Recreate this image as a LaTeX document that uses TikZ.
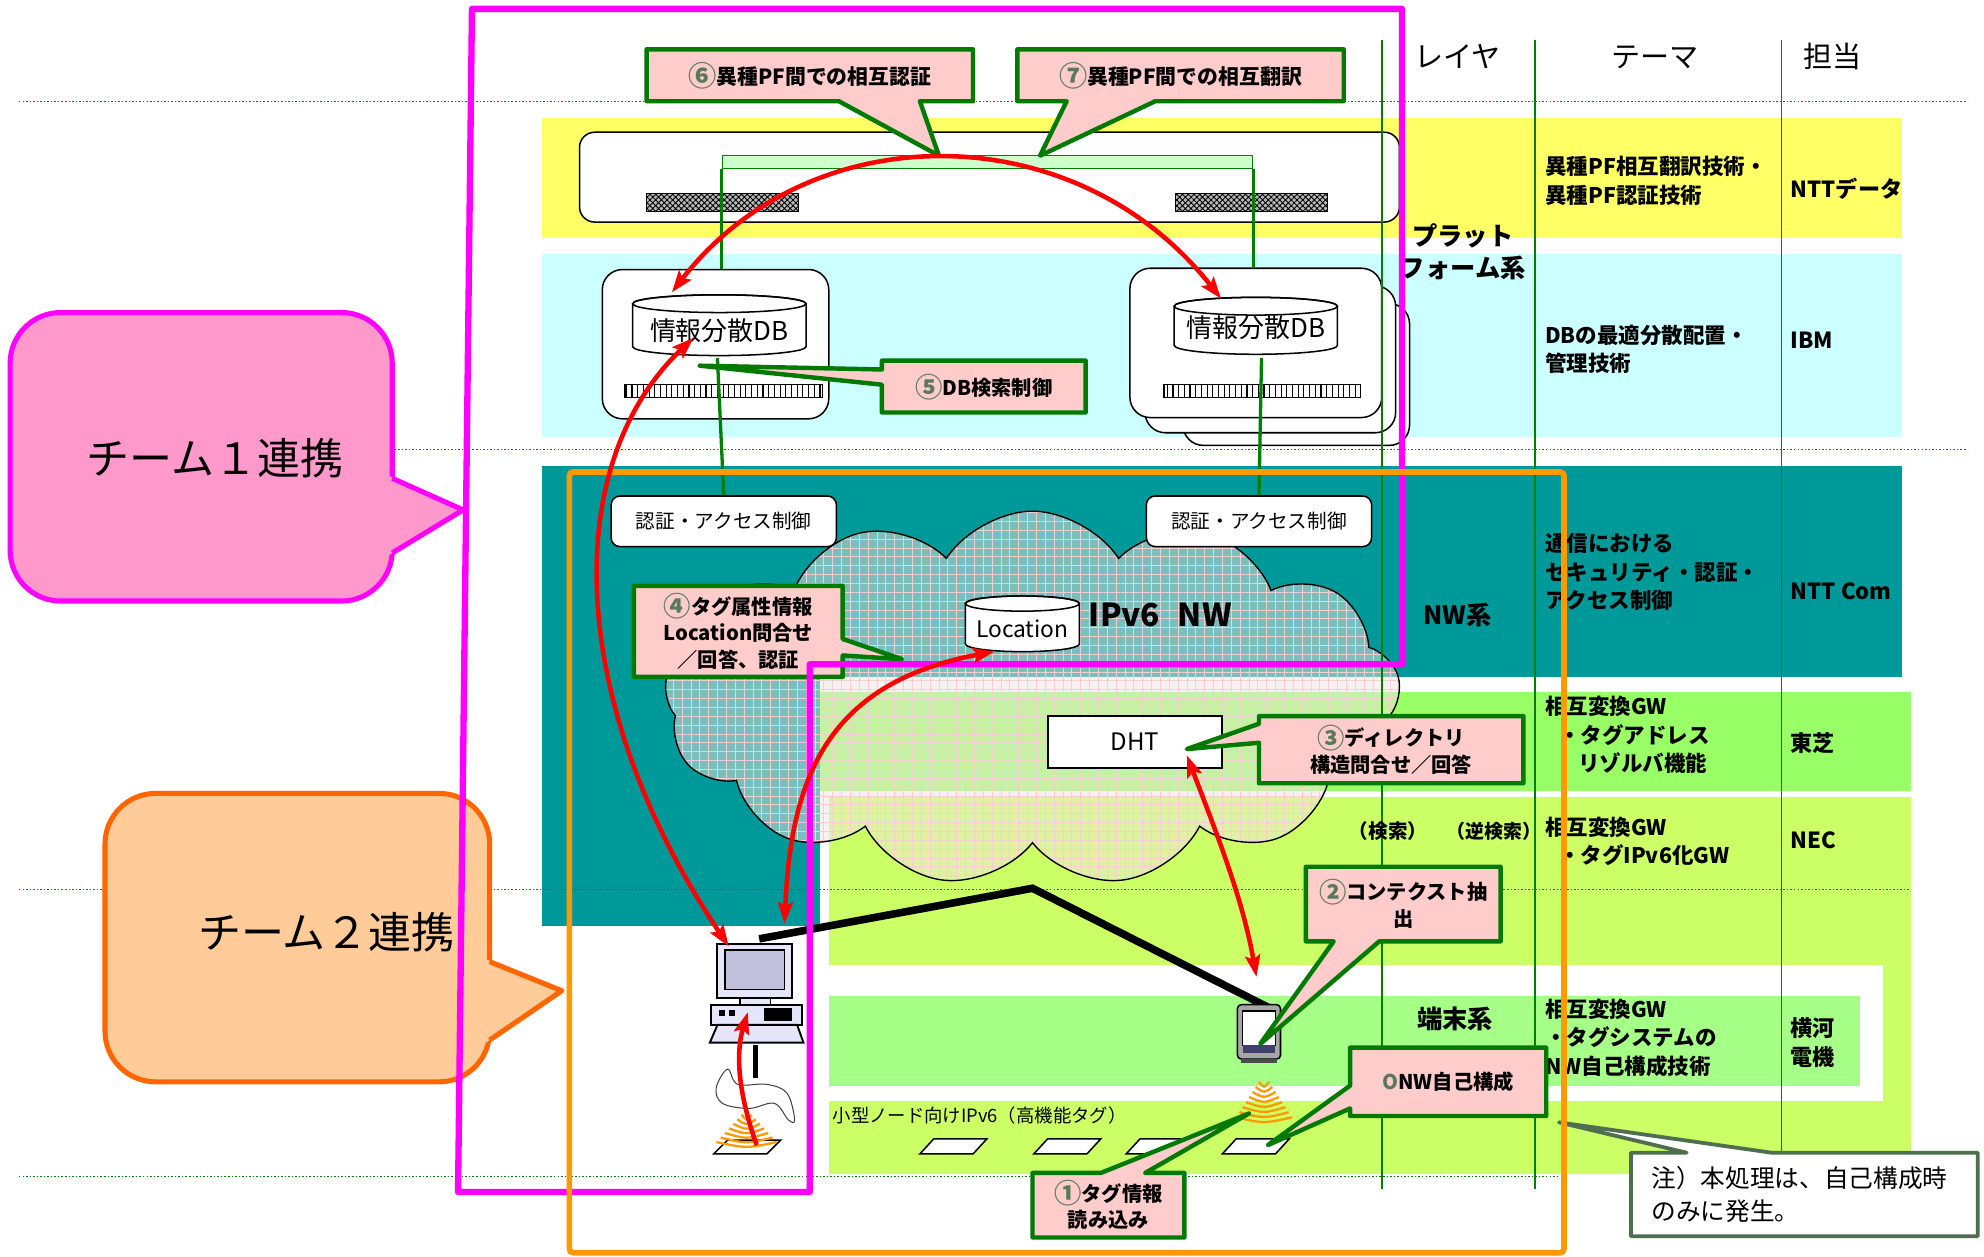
\documentclass[tikz,border=0pt]{standalone}
\usepackage{fontspec}
\setmainfont{Noto Sans CJK JP}
\usetikzlibrary{arrows.meta,shapes.symbols,patterns.meta}

\definecolor{bandyellow}{HTML}{FFFF66}
\definecolor{bandcyan}{HTML}{CCFFFF}
\definecolor{bandteal}{HTML}{009999}
\definecolor{bandgreen}{HTML}{99FF66}
\definecolor{bandlime}{HTML}{CCFF66}
\definecolor{bandmint}{HTML}{A6FF86}
\definecolor{rulegreen}{HTML}{008000}
\definecolor{calloutgreen}{HTML}{007A00}
\definecolor{calloutpink}{HTML}{FFCCCC}
\definecolor{numgreen}{HTML}{5A785A}
\definecolor{teamonefill}{HTML}{FF99CC}
\definecolor{teamoneline}{HTML}{FF00FF}
\definecolor{teamtwofill}{HTML}{FFCC99}
\definecolor{teamtwoline}{HTML}{FF6600}
\definecolor{frameorange}{HTML}{FF9900}
\definecolor{notegreen}{HTML}{4F6E4F}
\definecolor{pflink}{HTML}{CCFFCC}
\definecolor{pclav}{HTML}{E6E6FA}
\definecolor{pcscreen}{HTML}{C0C0DC}
\definecolor{phonestrip}{HTML}{40406A}
\definecolor{cloudwash}{HTML}{F4E4E4}
\definecolor{gridpink}{HTML}{F6CFCF}
\definecolor{waveorange}{HTML}{FF9900}

\newcommand{\fsz}[2]{\fontsize{#1}{#2}\selectfont}
% circled step numbers, enlarged to full character size
\newcommand{\cnum}[1]{\textcolor{numgreen}{\raisebox{-0.12em}{\scalebox{1.35}{#1}}}}

\tikzset{
  pics/drum/.style n args={3}{code={%
    \path[draw=black, line width=1.2pt, fill=white]
      (-#1,0) -- (-#1,#2)
      arc[start angle=180, end angle=360, x radius=#1pt, y radius=#3pt]
      -- (#1,0)
      arc[start angle=0, end angle=180, x radius=#1pt, y radius=#3pt] -- cycle;
    \draw[line width=1.2pt] (0,0) ellipse[x radius=#1pt, y radius=#3pt];
  }},
  cloudshape/.style={cloud, cloud puffs=13, cloud puff arc=115, aspect=1.96,
    minimum width=582pt, minimum height=296pt, inner sep=0pt},
  dotrule/.style={draw=rulegreen, line width=0.9pt, dash pattern=on 1.2pt off 1.6pt},
  colrule/.style={draw=rulegreen, line width=1.3pt},
  pfwire/.style={draw=rulegreen, line width=2.6pt},
  callout/.style={draw=calloutgreen, line width=3.5pt, fill=calloutpink, line join=round},
  ctext/.style={inner sep=0pt, align=center, font=\fsz{16}{21}\bfseries},
  theme/.style={inner sep=0pt, anchor=west, align=left, font=\fsz{17}{22.5}\bfseries},
  owner/.style={inner sep=0pt, anchor=west, align=left, font=\fsz{17.5}{23}\bfseries},
  layer/.style={inner sep=0pt, align=center, font=\fsz{20}{25}\bfseries},
  head/.style={inner sep=0pt, font=\fsz{23}{28}},
  whitebox/.style={draw=black, line width=1.2pt, fill=white, inner sep=0pt},
  hatchbar/.style={draw=black, line width=1pt, inner sep=0pt, minimum width=120pt,
    minimum height=14pt, fill=gray!55,
    postaction={pattern={Hatch[angle=45,distance=3.2pt,line width=0.7pt]}, pattern color=black}},
  stripbar/.style={draw=black, line width=1pt, inner sep=0pt, minimum height=10pt, fill=white,
    postaction={pattern={Lines[angle=90,distance=4.5pt,line width=0.9pt]}, pattern color=black}},
  redlink/.style={draw=red, line width=3.6pt,
    {Stealth[length=17pt,width=12pt,inset=3pt]}-{Stealth[length=17pt,width=12pt,inset=3pt]}},
  redone/.style={draw=red, line width=3.6pt, -{Stealth[length=17pt,width=12pt,inset=3pt]}},
  wire/.style={draw=black, line width=6pt, line join=miter},
  tagcard/.style={draw=black, line width=1.2pt, fill=white},
  wave/.style={draw=waveorange, line width=1.8pt},
}

\begin{document}
\begin{tikzpicture}[x=1pt, y=-1pt]
\useasboundingbox (0,0) rectangle (1568,993);
\fill[white] (0,0) rectangle (1568,993);

% ---------- layer bands ----------
\fill[bandyellow] (428,93) rectangle (1503,188);
\fill[bandcyan] (428,201) rectangle (1503,345);
\fill[bandteal] (428,368) rectangle (1503,535);
\fill[bandteal] (428,534) rectangle (648,732);
\fill[bandgreen] (648,547) rectangle (1510,625);
\fill[bandlime] (655,630) rectangle (1510,928);
\fill[white] (655,763) rectangle (1488,870);
\fill[bandmint] (655,787) rectangle (1470,858);

% ---------- dotted layer separators ----------
\draw[dotrule] (15,80) -- (1555,80);
\draw[dotrule] (15,355) -- (1555,355);
\draw[dotrule] (15,703) -- (1510,703);
\draw[dotrule] (15,930) -- (1232,930);

% ---------- platform ----------
\node[whitebox, rounded corners=12pt, minimum width=648pt, minimum height=71pt] (pfbox) at (782,140) {};
\node[hatchbar] (pfleft) at (571,160) {};
\node[hatchbar] (pfright) at (989,160) {};
\node[draw=rulegreen, line width=1.2pt, fill=pflink, minimum width=419pt, minimum height=10pt, inner sep=0pt] (pfbar) at (780.5,128) {};

% ---------- distributed DB servers ----------
\node[whitebox, rounded corners=16pt, minimum width=179pt, minimum height=112pt] (rdbback) at (1024.5,296) {};
\node[whitebox, rounded corners=16pt, minimum width=198pt, minimum height=116pt] (rdbmid) at (1004,284) {};
\node[whitebox, rounded corners=16pt, minimum width=199pt, minimum height=118pt] (rdbfront) at (992.5,271) {};
\node[whitebox, rounded corners=16pt, minimum width=179pt, minimum height=118pt] (ldbbox) at (565.5,272) {};

\pic at (568.5,240) {drum={68.5}{34}{7}};
\node[inner sep=0pt, font=\fsz{20.5}{24}] (ldbtext) at (568.5,261) {情報分散DB};
\pic at (992.5,242) {drum={64.5}{31}{7}};
\node[inner sep=0pt, font=\fsz{20.5}{24}] (rdbtext) at (992.5,259) {情報分散DB};

\node[stripbar, minimum width=156pt] (lstrip) at (572,309) {};
\node[stripbar, minimum width=155pt] (rstrip) at (997.5,309) {};

\draw[pfwire] (pfbar.south west) -- (ldbbox.north -| pfbar.south west);
\draw[pfwire] (pfbar.south east) -- (rdbfront.north -| pfbar.south east);

% ---------- IPv6 network cloud ----------
\node[cloudshape, fill=cloudwash, fill opacity=0.5] (nwwash) at (816,552) {};
\node[cloudshape, draw=black, line width=1.1pt,
      pattern={Hatch[angle=0,distance=7pt,line width=0.5pt]}, pattern color=gridpink] (nw) at (816,552) {};

\pic at (808,477) {drum={45}{32}{6}};
\node[inner sep=0pt, font=\fsz{18}{22}] (loc) at (808,497) {Location};
\node[inner sep=0pt, font=\fsz{25}{30}\bfseries] (nwlabel) at (917,486) {IPv6\hspace{14pt}NW};
\node[draw=black, line width=1.5pt, fill=white, minimum width=138pt, minimum height=41pt, inner sep=0pt,
      font=\fsz{19}{23}] (dht) at (897,586.5) {DHT};

\node[whitebox, rounded corners=7pt, minimum width=178pt, minimum height=40pt, font=\fsz{15.5}{19}] (auth1) at (572,412) {認証・アクセス制御};
\node[whitebox, rounded corners=7pt, minimum width=178pt, minimum height=40pt, font=\fsz{15.5}{19}] (auth2) at (995,412) {認証・アクセス制御};

\coordinate (ldbfoot) at (567,283);
\coordinate (rdbfoot) at (997,283);
\draw[pfwire] (ldbfoot) -- (auth1.north);
\draw[pfwire] (rdbfoot) -- (auth2.north);

% ---------- table columns ----------
\draw[colrule] (1092,32) -- (1092,940);
\draw[colrule] (1213,32) -- (1213,940);
\draw[colrule] (1408,32) -- (1408,940);

\node[head] (hlayer) at (1152,45) {レイヤ};
\node[head] (htheme) at (1308,45) {テーマ};
\node[head] (howner) at (1448,45) {担当};

\node[layer] (lpf) at (1156,199) {プラット\\フォーム系};
\node[layer] (lnw) at (1152,486) {NW系};
\node[layer] (ltm) at (1150,805) {端末系};

\node[theme] (th1) at (1221,143) {異種PF相互翻訳技術・\\異種PF認証技術};
\node[theme] (th2) at (1221,276) {DBの最適分散配置・\\管理技術};
\node[theme] (th3) at (1221,452) {通信における\\セキュリティ・認証・\\アクセス制御};
\node[theme] (th4) at (1221,581) {相互変換GW\\\hspace*{11pt}・タグアドレス\\\hspace*{26pt}リゾルバ機能};
\node[theme] (th5) at (1221,665) {相互変換GW\\\hspace*{11pt}・タグIPv6化GW};
\node[theme] (th6) at (1221,820) {相互変換GW\\・タグシステムの\\NW自己構成技術};

\node[owner] (ow1) at (1415,149) {NTTデータ};
\node[owner] (ow2) at (1415,269) {IBM};
\node[owner] (ow3) at (1415,467) {NTT Com};
\node[owner] (ow4) at (1415,587) {東芝};
\node[owner] (ow5) at (1415,664) {NEC};
\node[owner] (ow6) at (1415,824) {横河\\電機};

\node[inner sep=0pt, font=\fsz{15.5}{18}\bfseries] (srch) at (1097,657) {（検索）};
\node[inner sep=0pt, font=\fsz{15}{18}\bfseries] (rsrch) at (1181,657) {（逆検索）};
\node[inner sep=0pt, anchor=west, font=\fsz{14.5}{18}] (smallnode) at (658,882) {小型ノード向けIPv6（高機能タグ）};

% ---------- terminal side: wires, PC, handset, tags ----------
\coordinate (pctop) at (600,742);
\coordinate (hub) at (816,702);
\coordinate (phonetop) at (1010,800);
\draw[wire] (pctop) -- (hub) -- (phonetop);

% PC
\draw[line width=1.5pt, fill=pclav] (567,746) rectangle (626,789);
\draw[line width=1.5pt, fill=pcscreen] (573,751) rectangle (620,782);
\draw[line width=1.2pt, fill=pclav] (585,789) rectangle (609,794);
\draw[line width=1.5pt, fill=pclav] (562,794) rectangle (634,810);
\fill (568,798) rectangle (573,803);
\fill (576,798) rectangle (581,803);
\fill (604,797) rectangle (626,807);
\draw[line width=1.5pt, fill=pclav] (567,810) -- (630,810) -- (635,824) -- (561,824) -- cycle;
\draw[line width=4pt] (597,826) -- (597,852);
\draw[line width=0.8pt, draw=black!75, fill=white] plot[smooth cycle, tension=0.6]
  coordinates {(575,845) (583,857) (606,857) (622,864) (628,885) (623,885) (612,872) (592,876) (571,872) (566,860)};
\draw[tagcard] (575,901) -- (617,901) -- (606,912) -- (564,912) -- cycle;
\foreach \k in {0,...,6} {
  \draw[wave] ({586-3.3*\k},{881+3.6*\k}) .. controls (590,{886+3.6*\k}) .. ({594+3.3*\k},{881+3.6*\k});
}
\coordinate (pckbd) at (591,800);
\coordinate (pcscr) at (576,748);
\coordinate (pcside) at (620,730);
\coordinate (pctag) at (598,905);

% handset
\draw[line width=1.2pt, fill=gray!70, rounded corners=3pt] (978,794) rectangle (1012,837);
\draw[line width=0.8pt, fill=white] (982,799) rectangle (1008,826);
\fill[phonestrip] (982,826) rectangle (1008,832);
\fill[black!70] (981,837) rectangle (1009,840);
\coordinate (phonescreen) at (996,825);
\coordinate (phonehead) at (993,772);
\foreach \k in {0,...,7} {
  \draw[wave] ({995-2.6*\k},{855+4*\k}) .. controls (999,{860+4*\k}) .. ({1003+2.6*\k},{855+4*\k});
}
\coordinate (phonewave) at (987,880);

% tags
\foreach \tx in {727,817,890,966} {
  \draw[tagcard] (\tx+11,900) -- (\tx+53,900) -- (\tx+42,912) -- (\tx,912) -- cycle;
}
\coordinate (tagfour) at (1002,905);

% ---------- callouts ----------
\draw[callout] (511,39) -- (769,39) -- (769,80) -- (727,80) -- (742,123) -- (663,80) -- (511,80) -- cycle;
\node[ctext, font=\fsz{16.5}{21}\bfseries] (c6) at (640,60) {\cnum{⑥}異種PF間での相互認証};
\draw[callout] (804,39) -- (1062,39) -- (1062,80) -- (913,80) -- (822,123) -- (843,80) -- (804,80) -- cycle;
\node[ctext, font=\fsz{16.5}{21}\bfseries] (c7) at (933,60) {\cnum{⑦}異種PF間での相互翻訳};

\draw[callout] (697,285) -- (858,285) -- (858,326) -- (697,326) -- (697,304) -- (553,289) -- (697,292) -- cycle;
\node[ctext] (c5) at (777.5,306) {\cnum{⑤}DB検索制御};

\draw[callout] (501,463) -- (666,463) -- (666,505) -- (713,521) -- (666,518) -- (666,535) -- (501,535) -- cycle;
\node[ctext] (c4) at (583.5,499) {\cnum{④}タグ属性情報\\Location問合せ\\／回答、認証};

\draw[callout] (995,566) -- (1204,566) -- (1204,619) -- (995,619) -- (995,587) -- (938,592) -- (995,572) -- cycle;
\node[ctext] (c3) at (1099.5,592.5) {\cnum{③}ディレクトリ\\構造問合せ／回答};

\draw[callout] (1032,685) -- (1186,685) -- (1186,744) -- (1090,744) -- (phonescreen) -- (1054,744) -- (1032,744) -- cycle;
\node[ctext] (c2) at (1109,714) {\cnum{②}コンテクスト抽\\出};

\draw[callout] (1067,828) -- (1222,828) -- (1222,882) -- (1067,882) -- (1067,876) -- (tagfour) -- (1067,858) -- cycle;
\node[ctext] (c0) at (1144.5,855) {\textcolor{numgreen}{O}NW自己構成};

\draw[callout] (816,927) -- (870,927) -- (phonewave) -- (905,927) -- (936,927) -- (936,978) -- (816,978) -- cycle;
\node[ctext] (c1) at (876,952.5) {\cnum{①}タグ情報\\読み込み};

% note
\draw[draw=notegreen, line width=3pt, fill=white, line join=round]
  (1289,911) -- (1333,911) -- (1232,887) -- (1400,911) -- (1563,911) -- (1563,977) -- (1289,977) -- cycle;
\node[inner sep=0pt, anchor=west, align=left, font=\fsz{19.5}{26}] (note) at (1305,944) {注）本処理は、自己構成時\\のみに発生。};

% ---------- team bubbles ----------
\draw[line width=4pt, draw=teamoneline, fill=teamonefill, rounded corners=40pt] (8,247) rectangle (310,475);
\fill[teamonefill] (307,376) -- (366,403) -- (307,439) -- cycle;
\draw[line width=4pt, draw=teamoneline, line join=round] (310,378) -- (366,403) -- (310,437);
\node[inner sep=0pt, font=\fsz{34}{40}] (team1) at (170,362) {チーム１連携};

\draw[line width=4pt, draw=teamtwoline, fill=teamtwofill, rounded corners=40pt] (83,627) rectangle (387,855);
\fill[teamtwofill] (384,758) -- (444,783) -- (384,824) -- cycle;
\draw[line width=4pt, draw=teamtwoline, line join=round] (387,760) -- (444,783) -- (387,822);
\node[inner sep=0pt, font=\fsz{34}{40}] (team2) at (258,737) {チーム２連携};

% ---------- team frames ----------
\draw[line width=5pt, draw=teamoneline, line join=round]
  (373,7) -- (1108,7) -- (1108,525) -- (640,525) -- (640,942) -- (362,942) -- cycle;
\draw[line width=4.5pt, draw=frameorange, rounded corners=3pt] (450,373) rectangle (1236,990);

% ---------- message flows ----------
\coordinate (ldbin) at (531,231);
\coordinate (rdbin) at (965,236);
\coordinate (ldbcore) at (548,267);
\coordinate (locbase) at (786,515);
\coordinate (dhtin) at (938,597);
\draw[redlink] (ldbin) .. controls (640,90) and (850,90) .. (rdbin);
\draw[redlink] (ldbcore) .. controls (440,370) and (450,560) .. (pcscr);
\draw[redlink] (locbase) .. controls (650,540) and (625,620) .. (pcside);
\draw[redlink] (dhtin) .. controls (962,660) and (982,710) .. (phonehead);
\draw[redone] (pctag) .. controls (582,860) and (582,830) .. (pckbd);
\end{tikzpicture}
\end{document}
